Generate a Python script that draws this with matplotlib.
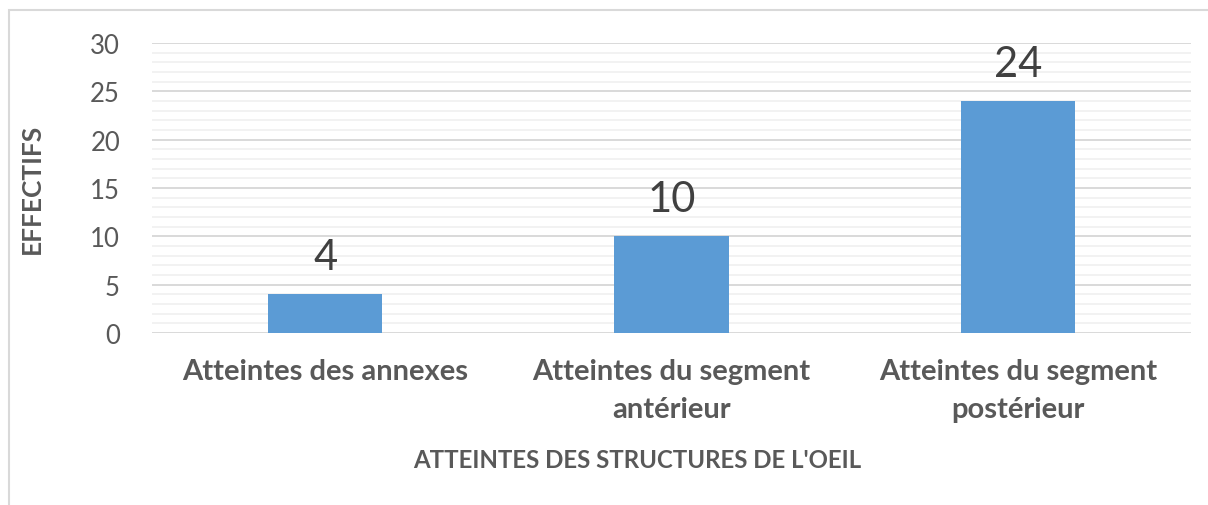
import matplotlib
matplotlib.use('Agg')
import matplotlib.pyplot as plt
from matplotlib.patches import Rectangle
from matplotlib.ticker import MultipleLocator

plt.rcParams['font.family'] = ['Lato', 'DejaVu Sans']

categories = ['Atteintes des annexes', 'Atteintes du segment\nantérieur', 'Atteintes du segment\npostérieur']
values = [4, 10, 24]
yticks = [0, 5, 10, 15, 20, 25, 30]

gray = '#595959'
fig = plt.figure(figsize=(12.08, 5.06), dpi=100)
ax = fig.add_axes([0.1258, 0.34, 0.8602, 0.573])

x = range(len(categories))
bars = ax.bar(x, values, width=0.33, color='#5b9bd5', zorder=3)
for xi, v in zip(x, values):
    ax.text(xi, v + 1.9, str(v), ha='center', va='bottom', fontsize=30, color='#404040')

ax.set_xlim(-0.5, 2.5)
ax.set_ylim(0, 30)
ax.set_yticks(yticks)
ax.yaxis.set_minor_locator(MultipleLocator(1))
ax.grid(axis='y', which='major', color='#d9d9d9', linewidth=1.4, zorder=0)
ax.grid(axis='y', which='minor', color='#f0f0f0', linewidth=1.2, zorder=0)
ax.set_axisbelow(True)
for s in ax.spines.values():
    s.set_visible(False)
ax.tick_params(axis='both', which='both', length=0)
ax.tick_params(axis='y', labelsize=18.5, labelcolor=gray, pad=23)
ax.set_xticks(list(x))
ax.set_xticklabels(categories, fontsize=21, fontweight='bold', color=gray, linespacing=1.55)
ax.tick_params(axis='x', pad=18)
ax.set_xlabel("ATTEINTES DES STRUCTURES DE L'OEIL", fontsize=17.3, fontweight='bold', color=gray, va='center')
ax.xaxis.set_label_coords(0.467, -0.438)
ax.set_ylabel('EFFECTIFS', fontsize=19, fontweight='bold', color=gray, labelpad=33)

fig.patches.append(Rectangle((9 / 1208, -0.1), 1.2, 1 - 11 / 506 + 0.1, transform=fig.transFigure,
                             fill=False, edgecolor='#d9d9d9', linewidth=1.5))

fig.savefig('out.png', dpi=100)
